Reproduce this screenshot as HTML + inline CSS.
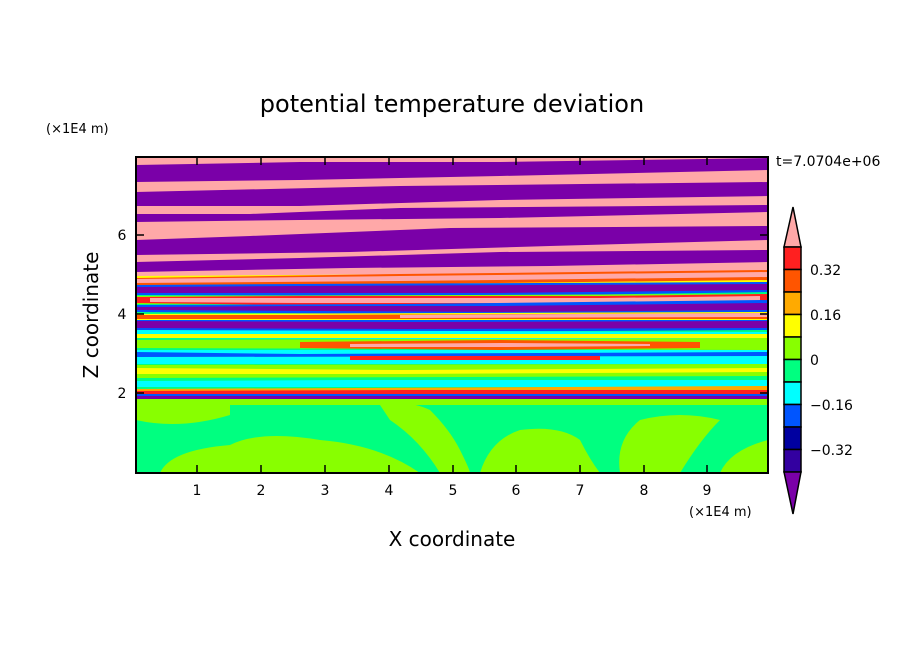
<!DOCTYPE html>
<html><head><meta charset="utf-8"><style>
body{margin:0;background:#fff;}
svg{display:block;font-family:"DejaVu Sans","Liberation Sans",sans-serif;}
</style></head><body>
<svg width="904" height="654" viewBox="0 0 904 654" xmlns="http://www.w3.org/2000/svg">
<defs><clipPath id="c"><rect x="136" y="157" width="632" height="316"/></clipPath></defs>
<g clip-path="url(#c)">
<rect x="136" y="157" width="632" height="316" fill="#ffa8a8"/>
<!-- top purple bands -->
<polygon points="136,165 300,162 500,162 768,158 768,170 500,176 300,180 136,182" fill="#7a00a8"/>
<polygon points="136,192 400,186 768,182 768,196 500,200 300,206 136,206" fill="#7a00a8"/>
<polygon points="136,214 250,214 300,212 400,208 768,205 768,212 500,218 300,220 136,222" fill="#7a00a8"/>
<polygon points="136,240 250,236 450,228 768,226 768,240 550,246 350,252 136,255" fill="#7a00a8"/>
<polygon points="136,262 300,258 500,252 768,250 768,262 550,266 350,268 136,272" fill="#7a00a8"/>
<!-- middle mixed zone -->
<rect x="136" y="276" width="632" height="124" fill="#00ff80"/>
<polygon points="136,276 768,272 768,285 136,292" fill="#ffff00"/>
<polygon points="136,278 400,274 768,270 768,280 400,284 136,286" fill="#ff5500"/>
<polygon points="136,279 400,276 768,272 768,277 400,281 136,283" fill="#ffa8a8"/>
<polygon points="136,285 300,284 768,282 768,292 500,296 136,295" fill="#0055ff"/>
<polygon points="136,287 300,286 768,284 768,290 500,293 136,293" fill="#7a00a8"/>
<polygon points="136,296 768,294 768,306 136,304" fill="#88ff00"/>
<polygon points="136,297 300,296 600,296 768,294 768,303 600,305 300,305 136,303" fill="#ff2020"/>
<polygon points="150,298 300,298 600,298 760,296 760,301 600,303 300,303 150,302" fill="#ffa8a8"/>
<polygon points="136,305 400,304 768,300 768,312 400,314 136,312" fill="#0055ff"/>
<polygon points="136,307 300,306 500,306 768,303 768,310 500,312 136,310" fill="#7a00a8"/>
<polygon points="136,314 768,312 768,322 136,320" fill="#ffff00"/>
<polygon points="136,315 300,315 768,313 768,319 136,319" fill="#ff5500"/>
<polygon points="400,315 768,313 768,317 400,318" fill="#ffa8a8"/>
<polygon points="136,320 400,320 768,320 768,330 400,332 136,330" fill="#0055ff"/>
<polygon points="136,321 400,322 768,321 768,328 400,329 136,328" fill="#7a00a8"/>
<polygon points="136,330 768,332 768,340 136,338" fill="#00ffff"/>
<polygon points="136,334 768,334 768,338 136,338" fill="#ffff00"/>
<polygon points="136,340 768,338 768,350 136,348" fill="#88ff00"/>
<polygon points="300,342 500,340 700,342 700,348 500,350 300,348" fill="#ff5500"/>
<polygon points="350,344 500,343 650,344 650,346 500,347 350,347" fill="#ffa8a8"/>
<polygon points="136,350 768,350 768,364 136,364" fill="#00ffff"/>
<polygon points="136,352 300,354 768,352 768,356 136,357" fill="#0055ff"/>
<polygon points="350,356 600,356 600,360 350,360" fill="#ff2020"/>
<polygon points="136,365 768,364 768,376 136,378" fill="#88ff00"/>
<polygon points="136,368 400,370 768,368 768,372 400,374 136,374" fill="#ffff00"/>
<polygon points="136,378 768,378 768,390 136,390" fill="#00ff80"/>
<polygon points="136,381 350,380 768,380 768,387 136,387" fill="#00ffff"/>
<polygon points="136,389 768,386 768,398 136,398" fill="#ffaa00"/>
<polygon points="136,391 400,390 768,390 768,394 136,394" fill="#ff2020"/>
<polygon points="136,394 768,394 768,399 136,399" fill="#0055ff"/>
<polygon points="136,396 768,396 768,399 136,399" fill="#7a00a8"/>
<!-- bottom -->
<rect x="136" y="399" width="632" height="74" fill="#00ff80"/>
<rect x="136" y="399" width="632" height="6" fill="#88ff00"/>
<path d="M160,473 Q170,450 230,445 Q260,430 320,440 Q380,445 420,473 Z" fill="#88ff00"/>
<path d="M380,405 Q410,400 430,410 Q450,430 460,450 Q470,470 470,473 L440,473 Q420,440 390,420 Z" fill="#88ff00"/>
<path d="M480,473 Q490,440 520,430 Q560,425 580,440 Q590,460 600,473 Z" fill="#88ff00"/>
<path d="M620,473 Q615,440 640,420 Q680,410 720,420 Q700,440 680,473 Z" fill="#88ff00"/>
<path d="M136,420 Q180,430 230,415 L230,405 L136,405 Z" fill="#88ff00"/>
<path d="M720,473 Q730,450 768,440 L768,473 Z" fill="#88ff00"/>
</g>
<rect x="136" y="157" width="632" height="316" fill="none" stroke="#000" stroke-width="2"/>
<g stroke="#000" stroke-width="1.5">
<line x1="197" y1="473" x2="197" y2="465"/><line x1="261" y1="473" x2="261" y2="465"/><line x1="325" y1="473" x2="325" y2="465"/><line x1="389" y1="473" x2="389" y2="465"/><line x1="453" y1="473" x2="453" y2="465"/><line x1="516" y1="473" x2="516" y2="465"/><line x1="580" y1="473" x2="580" y2="465"/><line x1="644" y1="473" x2="644" y2="465"/><line x1="707" y1="473" x2="707" y2="465"/>
<line x1="197" y1="157" x2="197" y2="165"/><line x1="261" y1="157" x2="261" y2="165"/><line x1="325" y1="157" x2="325" y2="165"/><line x1="389" y1="157" x2="389" y2="165"/><line x1="453" y1="157" x2="453" y2="165"/><line x1="516" y1="157" x2="516" y2="165"/><line x1="580" y1="157" x2="580" y2="165"/><line x1="644" y1="157" x2="644" y2="165"/><line x1="707" y1="157" x2="707" y2="165"/>
<line x1="136" y1="393" x2="144" y2="393"/><line x1="136" y1="314" x2="144" y2="314"/><line x1="136" y1="235" x2="144" y2="235"/>
<line x1="768" y1="393" x2="760" y2="393"/><line x1="768" y1="314" x2="760" y2="314"/><line x1="768" y1="235" x2="760" y2="235"/>
</g>
<g font-size="14" fill="#000" text-anchor="middle">
<text x="197" y="495">1</text><text x="261" y="495">2</text><text x="325" y="495">3</text><text x="389" y="495">4</text><text x="453" y="495">5</text><text x="516" y="495">6</text><text x="580" y="495">7</text><text x="644" y="495">8</text><text x="707" y="495">9</text>
<text x="122" y="398">2</text><text x="122" y="319">4</text><text x="122" y="240">6</text>
</g>
<text x="452" y="112" font-size="24" text-anchor="middle">potential temperature deviation</text>
<text x="452" y="546" font-size="20" text-anchor="middle">X coordinate</text>
<text transform="translate(98,315) rotate(-90)" font-size="20" text-anchor="middle">Z coordinate</text>
<text x="46" y="133" font-size="13">(×1E4 m)</text>
<text x="689" y="516" font-size="13">(×1E4 m)</text>
<text x="776" y="166" font-size="14">t=7.0704e+06</text>
<!-- colorbar -->
<g stroke="#000" stroke-width="1.5">
<polygon points="784,247 793,207 801,247" fill="#ffa8a8"/>
<rect x="784" y="247" width="17" height="22.5" fill="#ff2020"/>
<rect x="784" y="269.5" width="17" height="22.5" fill="#ff5500"/>
<rect x="784" y="292" width="17" height="22.5" fill="#ffaa00"/>
<rect x="784" y="314.5" width="17" height="22.5" fill="#ffff00"/>
<rect x="784" y="337" width="17" height="22.5" fill="#88ff00"/>
<rect x="784" y="359.5" width="17" height="22.5" fill="#00ff80"/>
<rect x="784" y="382" width="17" height="22.5" fill="#00ffff"/>
<rect x="784" y="404.5" width="17" height="22.5" fill="#0055ff"/>
<rect x="784" y="427" width="17" height="22.5" fill="#0000a0"/>
<rect x="784" y="449.5" width="17" height="22.5" fill="#3300a0"/>
<polygon points="784,472 793,514 801,472" fill="#7a00a8"/>
</g>
<g font-size="14">
<text x="810" y="275">0.32</text><text x="810" y="320">0.16</text><text x="810" y="365">0</text><text x="810" y="410">−0.16</text><text x="810" y="455">−0.32</text>
</g>
</svg>
</body></html>
